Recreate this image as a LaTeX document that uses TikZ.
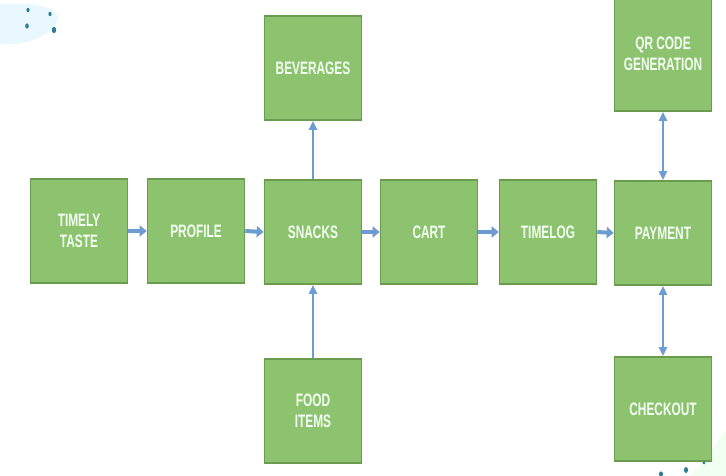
\documentclass[tikz,border=0pt]{standalone}
\usepackage{fontspec}
\setmainfont{Liberation Sans}
\newfontfamily\boxfont[FakeStretch=0.66]{Liberation Sans}
\usetikzlibrary{arrows.meta}

\definecolor{boxgreen}{HTML}{8DC26F}
\definecolor{boxedge}{HTML}{6A9B4F}
\definecolor{arrowblue}{HTML}{6C9CD2}
\definecolor{dotteal}{HTML}{2E7D96}

\tikzset{
    stage/.style={draw=boxedge, line width=1.6pt, fill=boxgreen, text=white!95!green,
        minimum width=97pt, minimum height=104pt, align=center,
        font=\boxfont\bfseries\fontsize{18}{21}\selectfont},
    flow/.style={arrowblue, line width=4pt, -{Triangle[length=7pt,width=11pt]}},
    link/.style={arrowblue, line width=2.5pt, -{Triangle[length=9pt,width=8pt]}},
    twoway/.style={arrowblue, line width=2.5pt, {Triangle[length=9pt,width=8pt]}-{Triangle[length=9pt,width=8pt]}}
}

\begin{document}
\begin{tikzpicture}[x=1pt,y=-1pt]
    \useasboundingbox[fill=white] (0,0) rectangle (726,476);

    % corner decoration
    \fill[cyan!9] (0,4) .. controls (30,2) and (60,6) .. (58,20) .. controls (52,34) and (30,46) .. (0,44) -- cycle;
    \fill[dotteal] (28,10) ellipse (1.6 and 2.2);
    \fill[dotteal] (50,14) ellipse (1.6 and 2.2);
    \fill[dotteal] (27,26) ellipse (1.8 and 2.6);
    \fill[dotteal] (54,30) ellipse (2.2 and 3.2);
    \fill[green!6] (726,430) -- (726,476) -- (690,476) .. controls (705,460) .. (726,430);
    \fill[dotteal] (661,474) ellipse (2 and 2.6);
    \fill[dotteal] (686,470) ellipse (2 and 3);
    \fill[dotteal] (704,462) ellipse (1.4 and 2.4);

    % boxes
    \node[stage] (taste) at (79,231) {TIMELY\\TASTE};
    \node[stage] (profile) at (196,231) {PROFILE};
    \node[stage] (snacks) at (313,232) {SNACKS};
    \node[stage] (bev) at (313,68) {BEVERAGES};
    \node[stage] (food) at (313,411) {FOOD\\ITEMS};
    \node[stage] (cart) at (429,232) {CART};
    \node[stage] (timelog) at (548,232) {TIMELOG};
    \node[stage] (payment) at (663,233) {PAYMENT};
    \node[stage, minimum height=114pt] (qr) at (663,54) {QR CODE\\GENERATION};
    \node[stage] (checkout) at (663,409) {CHECKOUT};

    % arrows
    \draw[flow] (taste.east) -- (profile.west);
    \draw[flow] (profile.east) -- (snacks.west);
    \draw[flow] (snacks.east) -- (cart.west);
    \draw[flow] (cart.east) -- (timelog.west);
    \draw[flow] (timelog.east) -- (payment.west);
    \draw[link] (snacks.north) -- (bev.south);
    \draw[link] (food.north) -- (snacks.south);
    \draw[twoway] (payment.north) -- (qr.south);
    \draw[twoway] (payment.south) -- (checkout.north);
\end{tikzpicture}
\end{document}
